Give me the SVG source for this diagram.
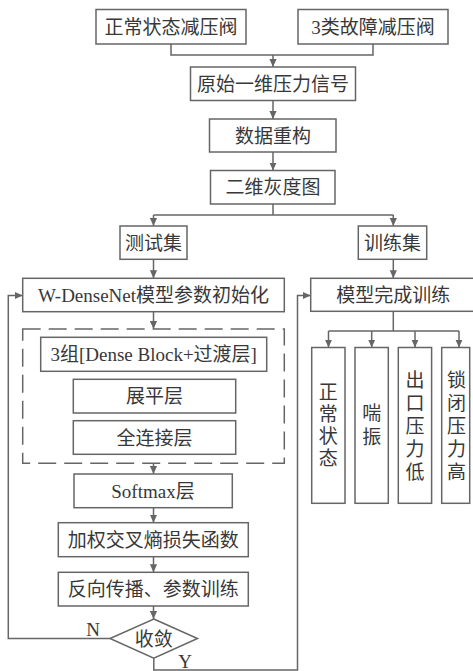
<svg xmlns="http://www.w3.org/2000/svg" width="473" height="671" viewBox="0 0 473 671">
<style>
  .box { fill: #fff; stroke: #666; stroke-width: 1.5; }
  .dash { fill: none; stroke: #666; stroke-width: 1.5; stroke-dasharray: 18 8; }
  .ln { fill: none; stroke: #666; stroke-width: 1.5; }
  .t { font-family: "Liberation Serif", "Noto Sans CJK SC", serif; font-size: 19px; fill: #383838; text-anchor: middle; }
</style>
<defs>
  <marker id="ah" viewBox="0 0 10 10" refX="10" refY="5" markerWidth="8" markerHeight="8" markerUnits="userSpaceOnUse" orient="auto">
    <path d="M0,0.5 L10,5 L0,9.5 z" fill="#666"/>
  </marker>
</defs>
<rect width="473" height="671" fill="#fff"/>

<g id="connectors">
  <polyline class="ln" points="171,44 171,55 373,55 373,44"/>
  <line class="ln" x1="273" y1="55" x2="273" y2="67" marker-end="url(#ah)"/>
  <line class="ln" x1="273" y1="100.5" x2="273" y2="119" marker-end="url(#ah)"/>
  <line class="ln" x1="273" y1="152" x2="273" y2="170.5" marker-end="url(#ah)"/>
  <polyline class="ln" points="273,204 273,215"/>
  <polyline class="ln" points="153.5,215 393.3,215"/>
  <line class="ln" x1="153.5" y1="215" x2="153.5" y2="226" marker-end="url(#ah)"/>
  <line class="ln" x1="393.3" y1="215" x2="393.3" y2="226" marker-end="url(#ah)"/>
  <line class="ln" x1="153.5" y1="259.3" x2="153.5" y2="278.3" marker-end="url(#ah)"/>
  <line class="ln" x1="153.5" y1="311.7" x2="153.5" y2="329" marker-end="url(#ah)"/>
  <line class="ln" x1="153.5" y1="463.3" x2="153.5" y2="474" marker-end="url(#ah)"/>
  <line class="ln" x1="153.5" y1="507.7" x2="153.5" y2="522.7" marker-end="url(#ah)"/>
  <line class="ln" x1="153.5" y1="556.7" x2="153.5" y2="572.3" marker-end="url(#ah)"/>
  <line class="ln" x1="153.5" y1="606" x2="153.5" y2="619" marker-end="url(#ah)"/>
  <polyline class="ln" points="110,638.5 8.3,638.5 8.3,295.5 22.7,295.5" marker-end="url(#ah)"/>
  <polyline class="ln" points="153.8,658.3 153.8,670 297.5,670 297.5,295.5 310.7,295.5" marker-end="url(#ah)"/>
  <line class="ln" x1="393.3" y1="259.3" x2="393.3" y2="278.3" marker-end="url(#ah)"/>
  <polyline class="ln" points="393.3,311 393.3,331"/>
  <polyline class="ln" points="328.5,331 459,331"/>
  <line class="ln" x1="328.5" y1="331" x2="328.5" y2="347.5" marker-end="url(#ah)"/>
  <line class="ln" x1="371.7" y1="331" x2="371.7" y2="347.5" marker-end="url(#ah)"/>
  <line class="ln" x1="415" y1="331" x2="415" y2="347.5" marker-end="url(#ah)"/>
  <line class="ln" x1="459" y1="331" x2="459" y2="347.5" marker-end="url(#ah)"/>
  <text class="t" x="93" y="636">N</text>
  <text class="t" x="185" y="668">Y</text>
</g>

<g id="n_normal"><rect class="box" x="96" y="9.5" width="150" height="34.5"/><text class="t" x="171" y="34">正常状态减压阀</text></g>
<g id="n_fault"><rect class="box" x="298" y="9.5" width="150" height="34.5"/><text class="t" x="373" y="34">3类故障减压阀</text></g>
<g id="n_raw"><rect class="box" x="190.5" y="67" width="165" height="33.5"/><text class="t" x="273" y="91">原始一维压力信号</text></g>
<g id="n_recon"><rect class="box" x="209.5" y="119" width="126.5" height="33"/><text class="t" x="273" y="142.5">数据重构</text></g>
<g id="n_gray"><rect class="box" x="210.5" y="170.5" width="124.5" height="33.5"/><text class="t" x="273" y="194">二维灰度图</text></g>
<g id="n_test"><rect class="box" x="120" y="226" width="67" height="33.3"/><text class="t" x="153.5" y="249.5">测试集</text></g>
<g id="n_train"><rect class="box" x="358.3" y="226" width="68.4" height="33.3"/><text class="t" x="392.5" y="249.5">训练集</text></g>
<g id="n_init"><rect class="box" x="22.7" y="278.3" width="261.6" height="33.4"/><text class="t" x="153.5" y="302">W-DenseNet模型参数初始化</text></g>
<g id="n_group"><rect class="dash" x="22.7" y="329" width="261.6" height="134.3"/></g>
<g id="n_dense"><rect class="box" x="40.7" y="337.3" width="226" height="34"/><text class="t" x="153.7" y="361.3">3组[Dense Block+过渡层]</text></g>
<g id="n_flat"><rect class="box" x="73.3" y="379.3" width="162.4" height="33.7"/><text class="t" x="154.5" y="403">展平层</text></g>
<g id="n_fc"><rect class="box" x="73.3" y="420.7" width="162.4" height="33.6"/><text class="t" x="154.5" y="444.5">全连接层</text></g>
<g id="n_softmax"><rect class="box" x="74" y="474" width="158.3" height="33.7"/><text class="t" x="153" y="498">Softmax层</text></g>
<g id="n_loss"><rect class="box" x="58.3" y="522.7" width="190" height="34"/><text class="t" x="153.3" y="546.7">加权交叉熵损失函数</text></g>
<g id="n_bp"><rect class="box" x="58.3" y="572.3" width="190" height="33.7"/><text class="t" x="153.3" y="596">反向传播、参数训练</text></g>
<g id="n_conv"><polygon class="box" points="153.8,619 197.5,638.5 153.8,658.3 110,638.5"/><text class="t" x="153.8" y="645.5">收敛</text></g>
<g id="n_done"><rect class="box" x="310.7" y="278.3" width="170" height="33"/><text class="t" x="393.3" y="301.8">模型完成训练</text></g>
<g id="n_c1"><rect class="box" x="311.7" y="347.5" width="33.3" height="155.8"/>
  <text class="t"><tspan x="328.3" y="399">正</tspan><tspan x="328.3" y="421">常</tspan><tspan x="328.3" y="443">状</tspan><tspan x="328.3" y="465">态</tspan></text></g>
<g id="n_c2"><rect class="box" x="355" y="347.5" width="33.3" height="155.8"/>
  <text class="t"><tspan x="371.7" y="420">喘</tspan><tspan x="371.7" y="444">振</tspan></text></g>
<g id="n_c3"><rect class="box" x="398.3" y="347.5" width="33.3" height="155.8"/>
  <text class="t"><tspan x="415" y="387">出</tspan><tspan x="415" y="410">口</tspan><tspan x="415" y="433">压</tspan><tspan x="415" y="456">力</tspan><tspan x="415" y="479">低</tspan></text></g>
<g id="n_c4"><rect class="box" x="441.7" y="347.5" width="28" height="155.8"/>
  <text class="t"><tspan x="456.5" y="387">锁</tspan><tspan x="456.5" y="410">闭</tspan><tspan x="456.5" y="433">压</tspan><tspan x="456.5" y="456">力</tspan><tspan x="456.5" y="479">高</tspan></text></g>
</svg>
